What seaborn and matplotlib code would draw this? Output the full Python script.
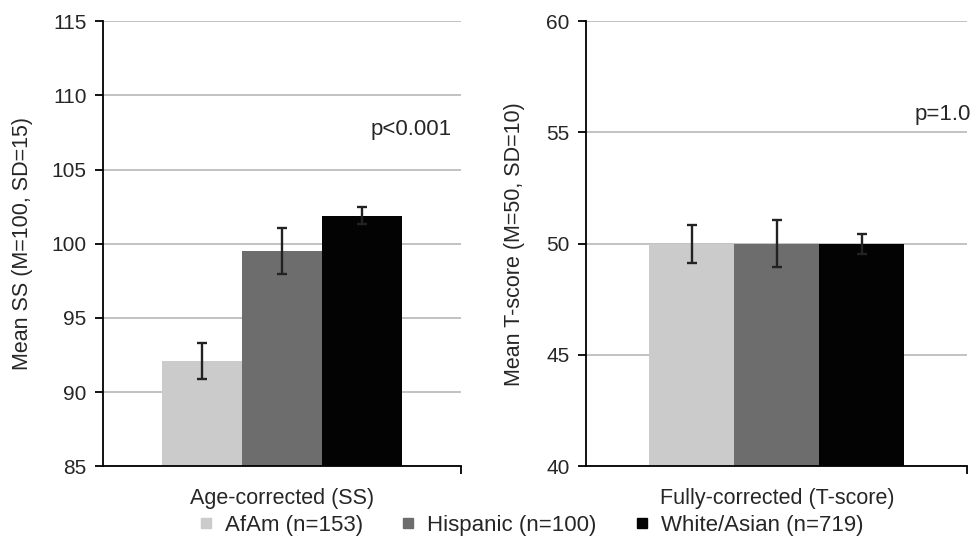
import numpy as np
import pandas as pd
import matplotlib.pyplot as plt
import seaborn as sns
from matplotlib.lines import Line2D

groups = ["AfAm (n=153)", "Hispanic (n=100)", "White/Asian (n=719)"]
colors = ["#cbcbcb", "#6d6d6d", "#030303"]

# age-corrected standard scores
ss_mean = [92.1, 99.5, 101.9]
ss_err = [1.2, 1.55, 0.6]

# fully-corrected T-scores
t_mean = [50.0, 50.0, 50.0]
t_err = [0.85, 1.05, 0.45]

sns.set_style("white")
plt.rcParams['font.family'] = ['Liberation Sans', 'DejaVu Sans']

fig = plt.figure(figsize=(9.74, 5.44), dpi=100)
ax1 = fig.add_axes([0.106, 0.143, 0.367, 0.818])
ax2 = fig.add_axes([0.602, 0.143, 0.391, 0.818])

panels = [
    (ax1, "Age-corrected (SS)", ss_mean, ss_err, (85, 115), 5,
     "Mean SS (M=100, SD=15)", "p<0.001", 107.7, 13),
    (ax2, "Fully-corrected (T-score)", t_mean, t_err, (40, 60), 5,
     "Mean T-score (M=50, SD=10)", "p=1.0", 55.8, 15),
]

for ax, label, means, errs, ylim, step, ylab, ptxt, py, lpad in panels:
    df = pd.DataFrame({"panel": [label] * 3, "group": groups, "mean": means})
    sns.barplot(data=df, x="panel", y="mean", hue="group", palette=colors,
                width=0.67, gap=0, ax=ax, legend=False, errorbar=None,
                saturation=1, linewidth=0)
    # error bars at bar centres
    bars = ax.patches[:3]
    xs = [b.get_x() + b.get_width() / 2 for b in bars]
    ax.errorbar(xs, means, yerr=errs, fmt="none", ecolor="#222222",
                elinewidth=1.7, capsize=3.5, capthick=1.7, zorder=5)
    ax.set_ylim(*ylim)
    ax.set_xlim(-0.5, 0.5)
    ax.set_yticks(np.arange(ylim[0], ylim[1] + 0.1, step))
    ax.yaxis.grid(True, color="#b8b8b8", linewidth=1.2)
    ax.set_axisbelow(True)
    ax.set_xlabel("")
    ax.set_ylabel(ylab, fontsize=15.5, labelpad=lpad)
    ax.set_xticks([0.5])
    ax.set_xticklabels([""])
    ax.text(0.0, -0.05, label, transform=ax.get_xaxis_transform(),
            ha="center", va="top", fontsize=15.5)
    for s in ["top", "right"]:
        ax.spines[s].set_visible(False)
    for s in ["left", "bottom"]:
        ax.spines[s].set_color("black")
        ax.spines[s].set_linewidth(1.3)
    ax.tick_params(axis="y", direction="out", length=6, width=1.3,
                   color="black", labelsize=15, left=True, pad=6)
    ax.tick_params(axis="x", direction="out", length=6, width=1.3,
                   color="black", bottom=True)
    if ax is ax1:
        ax.text(0.36, py, ptxt, ha="center", va="center", fontsize=16)
    else:
        ax.text(0.51, py, ptxt, ha="right", va="center", fontsize=16)

handles = [Line2D([], [], marker="s", linestyle="none", markersize=7.5,
                  markerfacecolor=c, markeredgecolor=c) for c in colors]
fig.legend(handles, groups, loc="center", ncol=3, frameon=False,
           fontsize=16, bbox_to_anchor=(0.545, 0.034), handlelength=0.7,
           handletextpad=0.5, columnspacing=1.7)

fig.savefig("out.png", dpi=100)
